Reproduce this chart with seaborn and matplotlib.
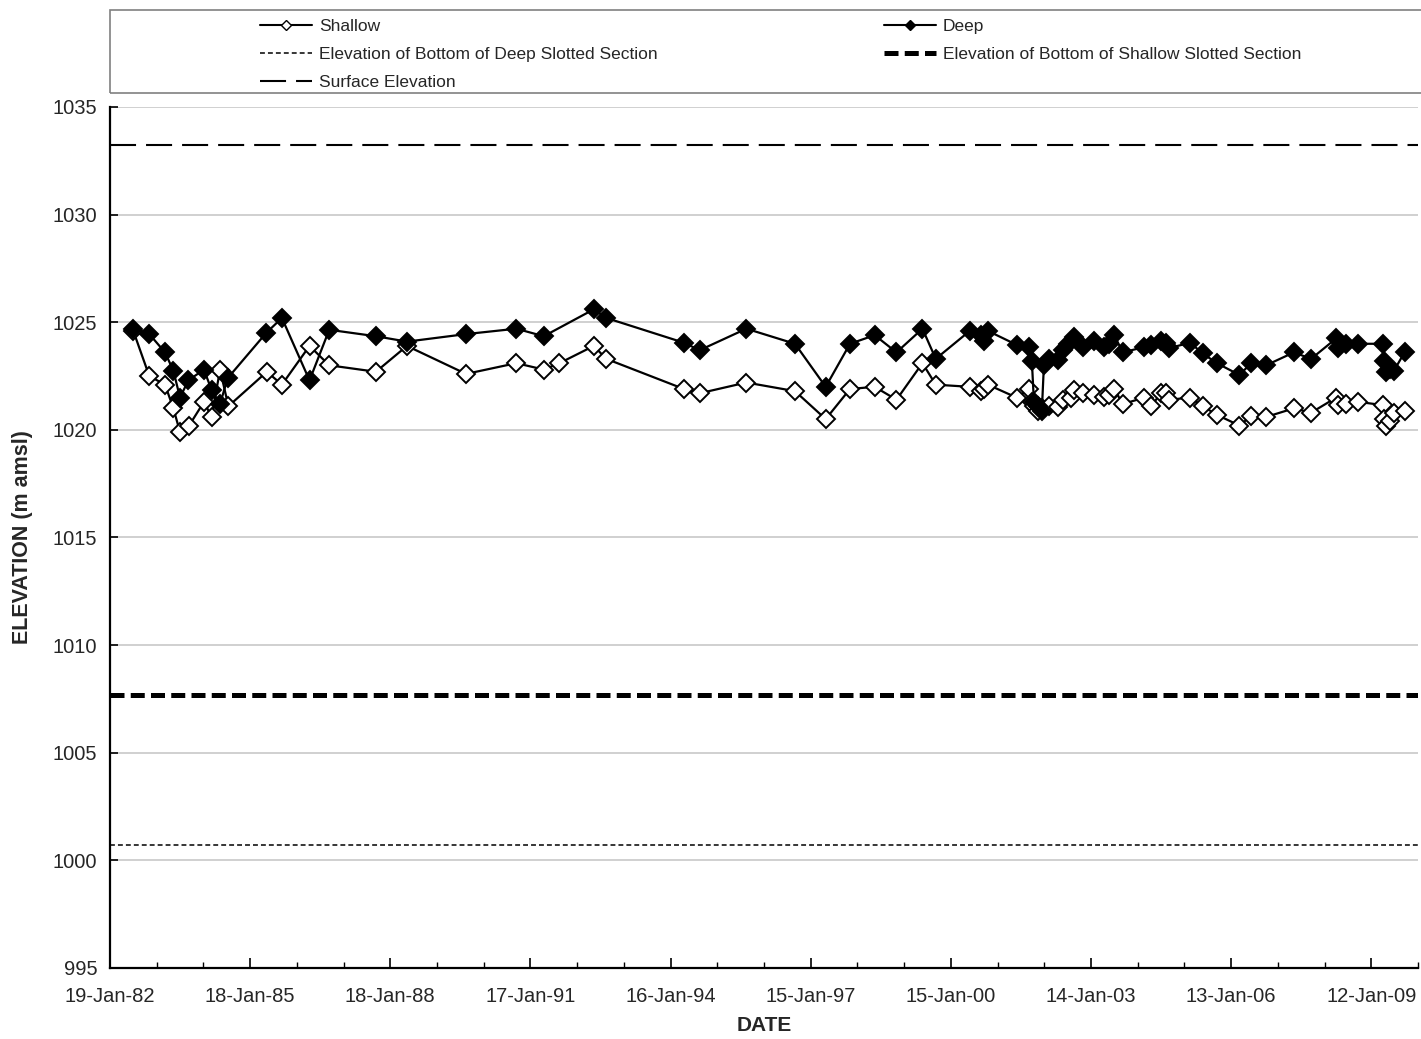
import matplotlib
matplotlib.use("Agg")
import matplotlib.pyplot as plt
import matplotlib.dates as mdates
from matplotlib.lines import Line2D
from matplotlib.patches import Rectangle
import seaborn as sns
import pandas as pd
import numpy as np

# Water level record, piezometer pair (m amsl)
shallow_dates = [
    "1982-07-20", "1982-11-22", "1983-03-25", "1983-05-29", "1983-07-20", "1983-09-29",
    "1984-01-23", "1984-03-23", "1984-05-28", "1984-08-01", "1985-05-29", "1985-09-23",
    "1986-04-27", "1986-09-28", "1987-09-28", "1988-05-27", "1989-09-01", "1990-09-29",
    "1991-05-01", "1991-09-01", "1992-05-26", "1992-08-31", "1994-04-30", "1994-08-31",
    "1995-08-31", "1996-09-14", "1997-05-12", "1997-11-18", "1998-05-30", "1998-11-16",
    "1999-06-07", "1999-09-19", "2000-06-11", "2000-09-05", "2000-09-29", "2000-10-30",
    "2001-06-12", "2001-09-18", "2001-10-09", "2001-10-25", "2001-11-25", "2001-12-26",
    "2002-02-17", "2002-05-03", "2002-06-11", "2002-08-10", "2002-09-05", "2002-11-10",
    "2003-02-08", "2003-04-28", "2003-06-06", "2003-07-15", "2003-09-19", "2004-03-06",
    "2004-04-27", "2004-07-14", "2004-08-22", "2004-09-17", "2005-02-26", "2005-06-05",
    "2005-09-23", "2006-03-19", "2006-06-18", "2006-10-13", "2007-05-18", "2007-09-30",
    "2008-04-13", "2008-04-26", "2008-06-30", "2008-10-04", "2009-04-13", "2009-04-23",
    "2009-05-09", "2009-06-04", "2009-07-08", "2009-09-29",
]
shallow_elev = [
    1024.6, 1022.5, 1022.1, 1021.0, 1019.9, 1020.2,
    1021.3, 1020.6, 1022.8, 1021.1, 1022.7, 1022.1,
    1023.9, 1023.0, 1022.7, 1023.9, 1022.6, 1023.1,
    1022.8, 1023.1, 1023.9, 1023.3, 1021.9, 1021.7,
    1022.2, 1021.8, 1020.5, 1021.9, 1022.0, 1021.4,
    1023.1, 1022.1, 1022.0, 1021.8, 1021.9, 1022.1,
    1021.5, 1021.9, 1021.3, 1021.1, 1020.9, 1021.0,
    1021.1, 1021.05, 1021.4, 1021.5, 1021.85, 1021.7,
    1021.6, 1021.55, 1021.6, 1021.9, 1021.2, 1021.5,
    1021.1, 1021.7, 1021.7, 1021.4, 1021.5, 1021.1,
    1020.7, 1020.2, 1020.65, 1020.6, 1021.0, 1020.8,
    1021.5, 1021.15, 1021.2, 1021.3, 1021.15, 1020.5,
    1020.2, 1020.4, 1020.8, 1020.9,
]

deep_dates = [
    "1982-07-20", "1982-11-22", "1983-03-25", "1983-05-29", "1983-07-20", "1983-09-23",
    "1984-01-23", "1984-03-23", "1984-05-28", "1984-07-26", "1985-05-23", "1985-09-23",
    "1986-04-27", "1986-09-28", "1987-09-28", "1988-05-27", "1989-09-01", "1990-09-29",
    "1991-05-01", "1992-05-26", "1992-08-31", "1994-04-30", "1994-08-31", "1995-08-31",
    "1996-09-14", "1997-05-12", "1997-11-18", "1998-05-30", "1998-11-16", "1999-06-07",
    "1999-09-19", "2000-06-11", "2000-09-05", "2000-09-29", "2000-10-30", "2001-06-12",
    "2001-09-18", "2001-10-09", "2001-10-25", "2001-11-25", "2001-12-26", "2002-01-11",
    "2002-02-17", "2002-05-03", "2002-06-07", "2002-07-16", "2002-09-05", "2002-11-10",
    "2003-02-08", "2003-04-28", "2003-06-06", "2003-07-15", "2003-09-19", "2004-03-06",
    "2004-04-27", "2004-07-14", "2004-08-22", "2004-09-17", "2005-02-26", "2005-06-05",
    "2005-09-23", "2006-03-19", "2006-06-18", "2006-10-13", "2007-05-18", "2007-09-30",
    "2008-04-13", "2008-04-26", "2008-06-30", "2008-10-04", "2009-04-13", "2009-04-23",
    "2009-05-09", "2009-06-04", "2009-07-08", "2009-09-29",
]
deep_elev = [
    1024.7, 1024.45, 1023.6, 1022.75, 1021.5, 1022.3,
    1022.8, 1021.85, 1021.2, 1022.4, 1024.5, 1025.2,
    1022.3, 1024.65, 1024.35, 1024.1, 1024.45, 1024.7,
    1024.35, 1025.6, 1025.2, 1024.05, 1023.7, 1024.7,
    1024.0, 1022.0, 1024.0, 1024.4, 1023.6, 1024.7,
    1023.3, 1024.6, 1024.4, 1024.15, 1024.6, 1023.95,
    1023.85, 1023.2, 1021.3, 1021.1, 1020.9, 1023.0,
    1023.3, 1023.25, 1023.7, 1024.0, 1024.3, 1023.85,
    1024.15, 1023.85, 1024.0, 1024.4, 1023.6, 1023.85,
    1023.95, 1024.15, 1024.05, 1023.8, 1024.05, 1023.55,
    1023.1, 1022.55, 1023.1, 1023.0, 1023.6, 1023.3,
    1024.25, 1023.8, 1024.0, 1024.0, 1024.0, 1023.2,
    1022.7, 1022.85, 1022.75, 1023.6,
]

# Reference elevations (m amsl)
surface_elevation = 1033.25
shallow_slot_bottom = 1007.7
deep_slot_bottom = 1000.7

series_labels = [
    "Shallow", "Deep",
    "Elevation of Bottom of Deep Slotted Section",
    "Elevation of Bottom of Shallow Slotted Section",
    "Surface Elevation",
]

sns.set_theme(style="white")
plt.rcParams["font.family"] = ["Liberation Sans", "DejaVu Sans"]

shallow = pd.DataFrame({"date": pd.to_datetime(shallow_dates), "elev": shallow_elev})
deep = pd.DataFrame({"date": pd.to_datetime(deep_dates), "elev": deep_elev})

fig = plt.figure(figsize=(14.21, 10.39), dpi=100)
ax = fig.add_axes([110 / 1421, 1 - 968 / 1039, (1418 - 110) / 1421, (968 - 107) / 1039])

# Reference elevation lines
ax.axhline(surface_elevation, color="black", lw=1.5, dashes=(12.5, 4.8), zorder=2)
ax.axhline(shallow_slot_bottom, color="black", lw=3.6, dashes=(2.8, 1.25), zorder=2)
ax.axhline(deep_slot_bottom, color="black", lw=1.1, dashes=(3.2, 2.0), zorder=2)

sns.lineplot(data=shallow, x="date", y="elev", ax=ax, color="black", lw=1.6,
             marker="D", markersize=8.8, markerfacecolor="white",
             markeredgecolor="black", markeredgewidth=1.4, zorder=4)
sns.lineplot(data=deep, x="date", y="elev", ax=ax, color="black", lw=1.6,
             marker="D", markersize=8.8, markerfacecolor="black",
             markeredgecolor="black", markeredgewidth=1.4, zorder=5)

# Date axis: 3-year major steps from the first survey day, yearly minor steps
start = pd.Timestamp("1982-01-19")
major = [start + pd.Timedelta(days=1095 * k) for k in range(10)]
minor = [start + pd.Timedelta(days=365 * k) for k in range(29)]
ax.set_xlim(mdates.date2num(start), mdates.date2num(start + pd.Timedelta(days=10220)))
ax.set_xticks(mdates.date2num(major))
ax.set_xticks(mdates.date2num(minor), minor=True)
ax.xaxis.set_major_formatter(mdates.DateFormatter("%d-%b-%y"))

ax.set_ylim(995, 1035)
ax.set_yticks(np.arange(995, 1036, 5))
ax.yaxis.grid(True, color="#c8c8c8", lw=1.2)
ax.set_axisbelow(True)

ax.tick_params(axis="both", which="major", direction="in", length=7, width=1.2,
               color="black", labelsize=14.5, pad=14)
ax.tick_params(axis="y", which="major", direction="in", length=6, pad=9)
ax.tick_params(axis="x", which="minor", direction="in", length=4, width=1.0, color="black")
ax.tick_params(bottom=True, left=True, which="both")

for side in ["top", "right"]:
    ax.spines[side].set_visible(False)
for side in ["left", "bottom"]:
    ax.spines[side].set_color("black")
    ax.spines[side].set_linewidth(1.6)

ax.set_xlabel("DATE", fontsize=15, fontweight="bold", labelpad=7)
ax.set_ylabel("ELEVATION (m amsl)", fontsize=15.5, fontweight="bold", labelpad=14)

# Legend box spanning the top of the figure
fig.patches.append(Rectangle((110 / 1421, 1 - 93 / 1039), 1.0, 83 / 1039,
                             transform=fig.transFigure, fill=False,
                             edgecolor="#808080", lw=1.2))

h_shallow = Line2D([], [], color="black", lw=1.5, marker="D", markersize=5,
                   markerfacecolor="white", markeredgecolor="black", markeredgewidth=1.0)
h_deep = Line2D([], [], color="black", lw=1.5, marker="D", markersize=5,
                markerfacecolor="black", markeredgecolor="black")
h_deep_slot = Line2D([], [], color="black", lw=1.1, dashes=(3.2, 2.0))
h_shallow_slot = Line2D([], [], color="black", lw=3.6, dashes=(2.8, 1.25))
h_surface = Line2D([], [], color="black", lw=1.5, dashes=(12.5, 4.8))

common = dict(loc="upper left", frameon=False, fontsize=12.5, handlelength=3.0,
              handletextpad=0.4, labelspacing=0.74, borderpad=0, borderaxespad=0,
              bbox_transform=fig.transFigure)
leg1 = fig.legend([h_shallow, h_deep_slot, h_surface],
                  [series_labels[0], series_labels[2], series_labels[4]],
                  bbox_to_anchor=(260 / 1421, 1 - 19 / 1039), **common)
leg2 = fig.legend([h_deep, h_shallow_slot],
                  [series_labels[1], series_labels[3]],
                  bbox_to_anchor=(884 / 1421, 1 - 19 / 1039), **common)

fig.savefig("out.png", dpi=100)
